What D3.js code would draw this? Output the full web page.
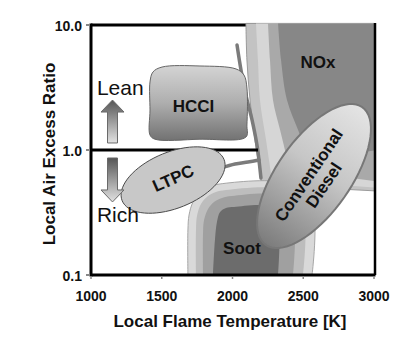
<!DOCTYPE html>
<html><head><meta charset="utf-8">
<script src="https://cdn.jsdelivr.net/npm/d3@7"></script>
<style>html,body{margin:0;padding:0;background:#fff;} svg{display:block;font-family:"Liberation Sans",Arial,sans-serif;}</style>
</head><body><svg id="c" width="413" height="345"></svg>
<script>
// ---- data (temperature K, local air excess ratio) ----
const xTicks = [1000, 1500, 2000, 2500, 3000];
const yTicks = [10, 1, 0.1];
const yTickLabels = ["10.0", "1.0", "0.1"];
const xTitle = "Local Flame Temperature [K]";
const yTitle = "Local Air Excess Ratio";

// NOx region, outer -> inner layers: curved left edge (top -> bottom), then straight corners
const noxL1Edge = [[2095,10.3],[2102,5.25],[2124,2.51],[2159,1.2],[2208,0.525]];
const noxL2Edge = [[2166,10.3],[2180,5.25],[2194,2.51],[2237,1.2],[2279,0.575]];
const noxL3Edge = [[2251,10.3],[2265,5.25],[2286,2.51],[2336,1.45],[2406,0.692]];
const noxL4Edge = [[2322,10.3],[2343,5.25],[2385,2.51],[2463,1.45],[2548,0.832]];
const noxBottoms = [0.47, 0.5, 0.56, 1.0];
const noxTop = 10.3;
// Soot region, outer -> inner layers (open at the bottom axis)
const sootL1 = [[1685,0.1],[1685,0.229],[1693,0.302],[1721,0.384],[1770,0.453],[1834,0.506],[1912,0.535],[2406,0.535],[2562,0.363],[2562,0.1]];
const sootL2 = [[1742,0.1],[1742,0.229],[1749,0.296],[1777,0.370],[1827,0.429],[1883,0.461],[1954,0.479],[2371,0.479],[2498,0.344],[2498,0.1]];
const sootL3 = [[1792,0.1],[1792,0.221],[1799,0.275],[1827,0.337],[1869,0.384],[1926,0.413],[1996,0.429],[2336,0.429],[2428,0.319],[2428,0.1]];
const sootL4 = [[1862,0.1],[1876,0.191],[1890,0.265],[1912,0.319],[1954,0.344],[2011,0.35],[2265,0.35],[2322,0.275],[2322,0.1]];
// HCCI region outline
const hcci = [[1417,3.50],[1438,4.21],[1502,4.61],[1770,4.70],[2025,4.45],[2081,3.98],[2102,3.13],[2102,1.585],[2095,1.27],[1770,1.22],[1452,1.22],[1417,1.318],[1417,2.09]];
// gray boundary strokes
const grayMain = [[2032,6.92],[2060,4.37],[2095,2.75],[2138,1.74],[2173,1.096],[2187,0.832],[2201,0.597]];
const grayBranch = [[1919,0.718],[2018,0.773],[2110,0.802],[2187,0.832]];
// ellipses: centre, end of major axis, end of minor axis
const ltpc = {center:[1580,0.575], major:[1940,0.841], minor:[1654,0.356]};
const diesel = {center:[2576,0.619], major:[2917,2.20], minor:[2790,0.419]};
// stoichiometric line
const stoichLine = [[1000,1],[2180,1]];
// labels
const regionLabels = [
  {text:"NOx", T:2604, lam:5.06, rot:0},
  {text:"HCCI", T:1724, lam:2.25, rot:0},
  {text:"LTPC", T:1580, lam:0.597, rot:-24},
  {text:"Soot", T:2067, lam:0.164, rot:0},
  {text:"Conventional", T:2537, lam:0.631, rot:-56},
  {text:"Diesel", T:2643, lam:0.525, rot:-56}
];
const sideLabels = [{text:"Lean", T:1042, lam:2.75}, {text:"Rich", T:1042, lam:0.266}];
const arrows = [{T:1152, from:1.138, to:2.51}, {T:1152, from:0.863, to:0.384}];

// ---- drawing ----
const svg = d3.select("#c");
const x = d3.scaleLinear().domain([1000,3000]).range([91,374]);
const y = d3.scaleLog().domain([0.1,10]).range([275,25]);
const defs = svg.append("defs");
defs.append("clipPath").attr("id","plot").append("rect")
  .attr("x", x(1000)).attr("y", 22).attr("width", x(3000)-x(1000)).attr("height", y(0.1)-22);

function grad(id, stops, x1,y1,x2,y2, user){
  const g = defs.append("linearGradient").attr("id",id)
    .attr("x1",x1).attr("y1",y1).attr("x2",x2).attr("y2",y2);
  if(user) g.attr("gradientUnits","userSpaceOnUse");
  stops.forEach(s=>g.append("stop").attr("offset",s[0]).attr("stop-color",s[1]));
}
grad("hcciG", [[0,"#d4d4d4"],[0.5,"#aeaeae"],[1,"#727272"]], 0,0,0,1);
grad("arrG", [[0,"#555"],[1,"#e2e2e2"]], 0,0,0,1);

const closed = d3.line().x(d=>x(d[0])).y(d=>y(d[1])).curve(d3.curveCatmullRomClosed.alpha(0.5));
const open = d3.line().x(d=>x(d[0])).y(d=>y(d[1])).curve(d3.curveCatmullRom.alpha(0.5));

// top frame line (covered by NOx)
svg.append("line").attr("x1",x(1000)).attr("x2",x(3000)).attr("y1",y(10)).attr("y2",y(10))
  .attr("stroke","#000").attr("stroke-width",3);

const g = svg.append("g").attr("clip-path","url(#plot)");
[[noxL1Edge,"#c3c3c3","#9a9a9a"],[noxL2Edge,"#d6d6d6","none"],[noxL3Edge,"#a9a9a9","none"],[noxL4Edge,"#878787","none"]]
  .forEach(([d,f,s],i)=>{
    const path = open(d) + `L${x(3000)+3},${y(noxBottoms[i])}L${x(3000)+3},${y(noxTop)}Z`;
    g.append("path").attr("d",path).attr("fill",f).attr("stroke",s).attr("stroke-width",1);
  });
[[sootL1,"#d9d9d9","#a6a6a6"],[sootL2,"#bdbdbd","none"],[sootL3,"#a0a0a0","none"],[sootL4,"#6c6c6c","none"]]
  .forEach(([d,f,s])=>g.append("path").attr("d",open(d)+"Z").attr("fill",f).attr("stroke",s).attr("stroke-width",1));

// gray boundary lines
[grayMain, grayBranch].forEach(d=>g.append("path").attr("d",open(d)).attr("fill","none")
  .attr("stroke","#7b7b7b").attr("stroke-width",3.5).attr("stroke-linecap","round"));

// HCCI
g.append("path").attr("d",closed(hcci)).attr("fill","url(#hcciG)").attr("stroke","#666").attr("stroke-width",1);

// stoichiometric line
svg.append("line").attr("x1",x(stoichLine[0][0])).attr("x2",x(stoichLine[1][0]))
  .attr("y1",y(stoichLine[0][1])).attr("y2",y(stoichLine[1][1])).attr("stroke","#000").attr("stroke-width",3);

function ellipsePts(e){
  const c=[x(e.center[0]),y(e.center[1])], a=[x(e.major[0])-c[0],y(e.major[1])-c[1]], b=[x(e.minor[0])-c[0],y(e.minor[1])-c[1]];
  return d3.range(72).map(i=>{const t=i/72*2*Math.PI; return [c[0]+Math.cos(t)*a[0]+Math.sin(t)*b[0], c[1]+Math.cos(t)*a[1]+Math.sin(t)*b[1]];});
}
const pix = d3.line().curve(d3.curveLinearClosed);
// LTPC
svg.append("path").attr("d",pix(ellipsePts(ltpc))).attr("fill","#c8c8c8").attr("stroke","#4a4a4a").attr("stroke-width",1);
// Diesel with gradient along major axis
{
  const c=[x(diesel.center[0]),y(diesel.center[1])], m=[x(diesel.major[0]),y(diesel.major[1])];
  grad("dieselG", [[0,"#e4e4e4"],[0.45,"#c6c6c6"],[1,"#7c7c7c"]], m[0],m[1],2*c[0]-m[0],2*c[1]-m[1], true);
  svg.append("path").attr("d",pix(ellipsePts(diesel))).attr("fill","url(#dieselG)").attr("stroke","#777").attr("stroke-width",2);
}

// arrows
arrows.forEach(a=>{
  const px=x(a.T), y0=y(a.from), y1=y(a.to), dir=Math.sign(y1-y0), hb=y1-dir*12;
  const pts=[[px-5,y0],[px-5,hb],[px-11.5,hb],[px,y1],[px+11.5,hb],[px+5,hb],[px+5,y0]];
  svg.append("path").attr("d",pix(pts)).attr("fill","url(#arrG)").attr("stroke","#6a6a6a").attr("stroke-width",1);
});

// region labels
regionLabels.forEach(l=>{
  svg.append("text").attr("transform",`translate(${x(l.T)},${y(l.lam)}) rotate(${l.rot})`)
    .attr("text-anchor","middle").attr("dy","0.36em").attr("font-size",17).attr("font-weight","bold")
    .attr("fill","#111").text(l.text);
});
sideLabels.forEach(l=>{
  svg.append("text").attr("x",x(l.T)).attr("y",y(l.lam)).attr("font-size",21).attr("fill","#111").text(l.text);
});

// frame lines
svg.append("line").attr("x1",x(1000)).attr("x2",x(1000)).attr("y1",y(10)-1.5).attr("y2",y(0.1)+1.5).attr("stroke","#000").attr("stroke-width",3);
svg.append("line").attr("x1",x(1000)).attr("x2",x(3000)+1.5).attr("y1",y(0.1)).attr("y2",y(0.1)).attr("stroke","#000").attr("stroke-width",3);
svg.append("line").attr("x1",x(3000)+1).attr("x2",x(3000)+1).attr("y1",y(10)-2).attr("y2",y(0.1)).attr("stroke","#000").attr("stroke-width",2.5);

// ticks
xTicks.forEach(t=>{
  svg.append("line").attr("x1",x(t)).attr("x2",x(t)).attr("y1",y(0.1)+1).attr("y2",y(0.1)+4).attr("stroke","#888").attr("stroke-width",1.5);
  svg.append("text").attr("x",x(t)).attr("y",301).attr("text-anchor","middle").attr("font-size",14).attr("font-weight","bold").attr("fill","#111").text(t);
});
yTicks.forEach((t,i)=>{
  svg.append("line").attr("x1",x(1000)-5).attr("x2",x(1000)-1).attr("y1",y(t)).attr("y2",y(t)).attr("stroke","#888").attr("stroke-width",2);
  svg.append("text").attr("x",82).attr("y",y(t)+6).attr("text-anchor","end").attr("font-size",14).attr("font-weight","bold").attr("fill","#111").text(yTickLabels[i]);
});
svg.append("text").attr("x",230).attr("y",327).attr("text-anchor","middle").attr("font-size",17).attr("font-weight","bold").attr("fill","#111").text(xTitle);
svg.append("text").attr("transform","translate(55,154) rotate(-90)").attr("text-anchor","middle").attr("font-size",17).attr("font-weight","bold").attr("fill","#111").text(yTitle);
</script></body></html>
